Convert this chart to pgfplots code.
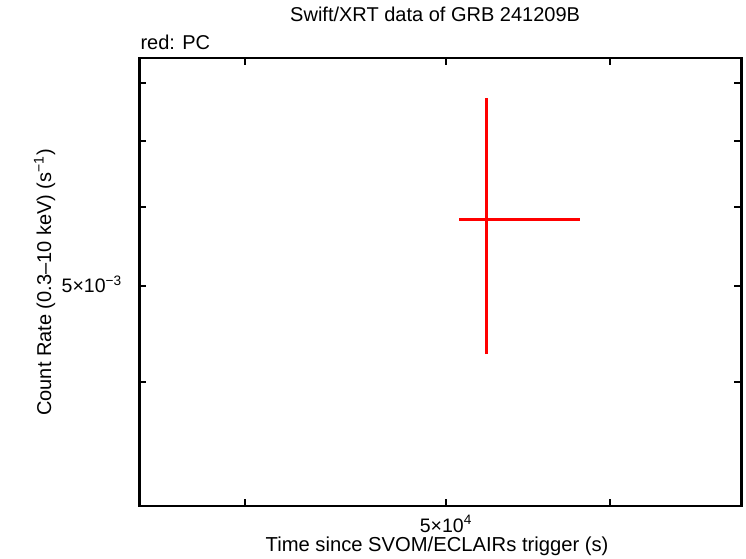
\documentclass[border=0pt]{standalone}
\usepackage{fontspec}
\setmainfont{Liberation Sans}
\usepackage{pgfplots}
\pgfplotsset{compat=1.18}

\begin{document}
\begin{tikzpicture}[x=1pt,y=1pt]
\useasboundingbox (0,0) rectangle (746,558);
\begin{axis}[
    at={(139pt,52pt)}, anchor=south west,
    width=602pt, height=448pt, scale only axis,
    clip=false,
    line width=2.8pt,
    xmode=log, ymode=log,
    xmin=35559, xmax=69412,
    ymin=0.003, ymax=0.00848,
    xtick={40000,50000,60000,70000},
    xticklabels={,5×10\textsuperscript{4},,},
    ytick={0.003,0.004,0.005,0.006,0.007,0.008},
    yticklabels={,,5×10\textsuperscript{−3},,,},
    minor xtick={}, minor ytick={},
    tick align=inside,
    major tick length=7pt,
    every tick/.style={line width=2.2pt, black},
    /pgf/number format/assume math mode=true,
    xticklabel style={font=\fontsize{19.5}{22}\selectfont, anchor=base, inner sep=0pt, yshift=-26pt},
    yticklabel style={font=\fontsize{19.5}{22}\selectfont, anchor=base east, inner sep=0pt, xshift=-16pt, yshift=-7pt},
    title={Swift/XRT data of GRB 241209B},
    title style={font=\fontsize{20}{24}\selectfont, at={(axis description cs:0.4917,1.0692)}, anchor=base, inner sep=0pt},
    xlabel={Time since SVOM/ECLAIRs trigger (s)},
    xlabel style={font=\fontsize{20.2}{24}\selectfont, at={(axis description cs:0.495,-0.1004)}, anchor=base, inner sep=0pt},
    ylabel={Count Rate (0.3–10 keV) (s\textsuperscript{−1})},
    ylabel style={font=\fontsize{20}{24}\selectfont, at={(axis description cs:-0.1462,0.499)}, anchor=base, inner sep=0pt},
]
    % PC point: time error bar and rate error bar
    \addplot[red, line width=3pt, mark=none] coordinates {
        (50737,0.005837) (58012,0.005837)
    };
    \addplot[red, line width=3pt, mark=none] coordinates {
        (52284,0.004268) (52284,0.007722)
    };
    \node[font=\fontsize{20}{24}\selectfont, anchor=base west, inner sep=0pt]
        at (axis description cs:0,1.0201) {red: PC};
\end{axis}
\end{tikzpicture}
\end{document}
